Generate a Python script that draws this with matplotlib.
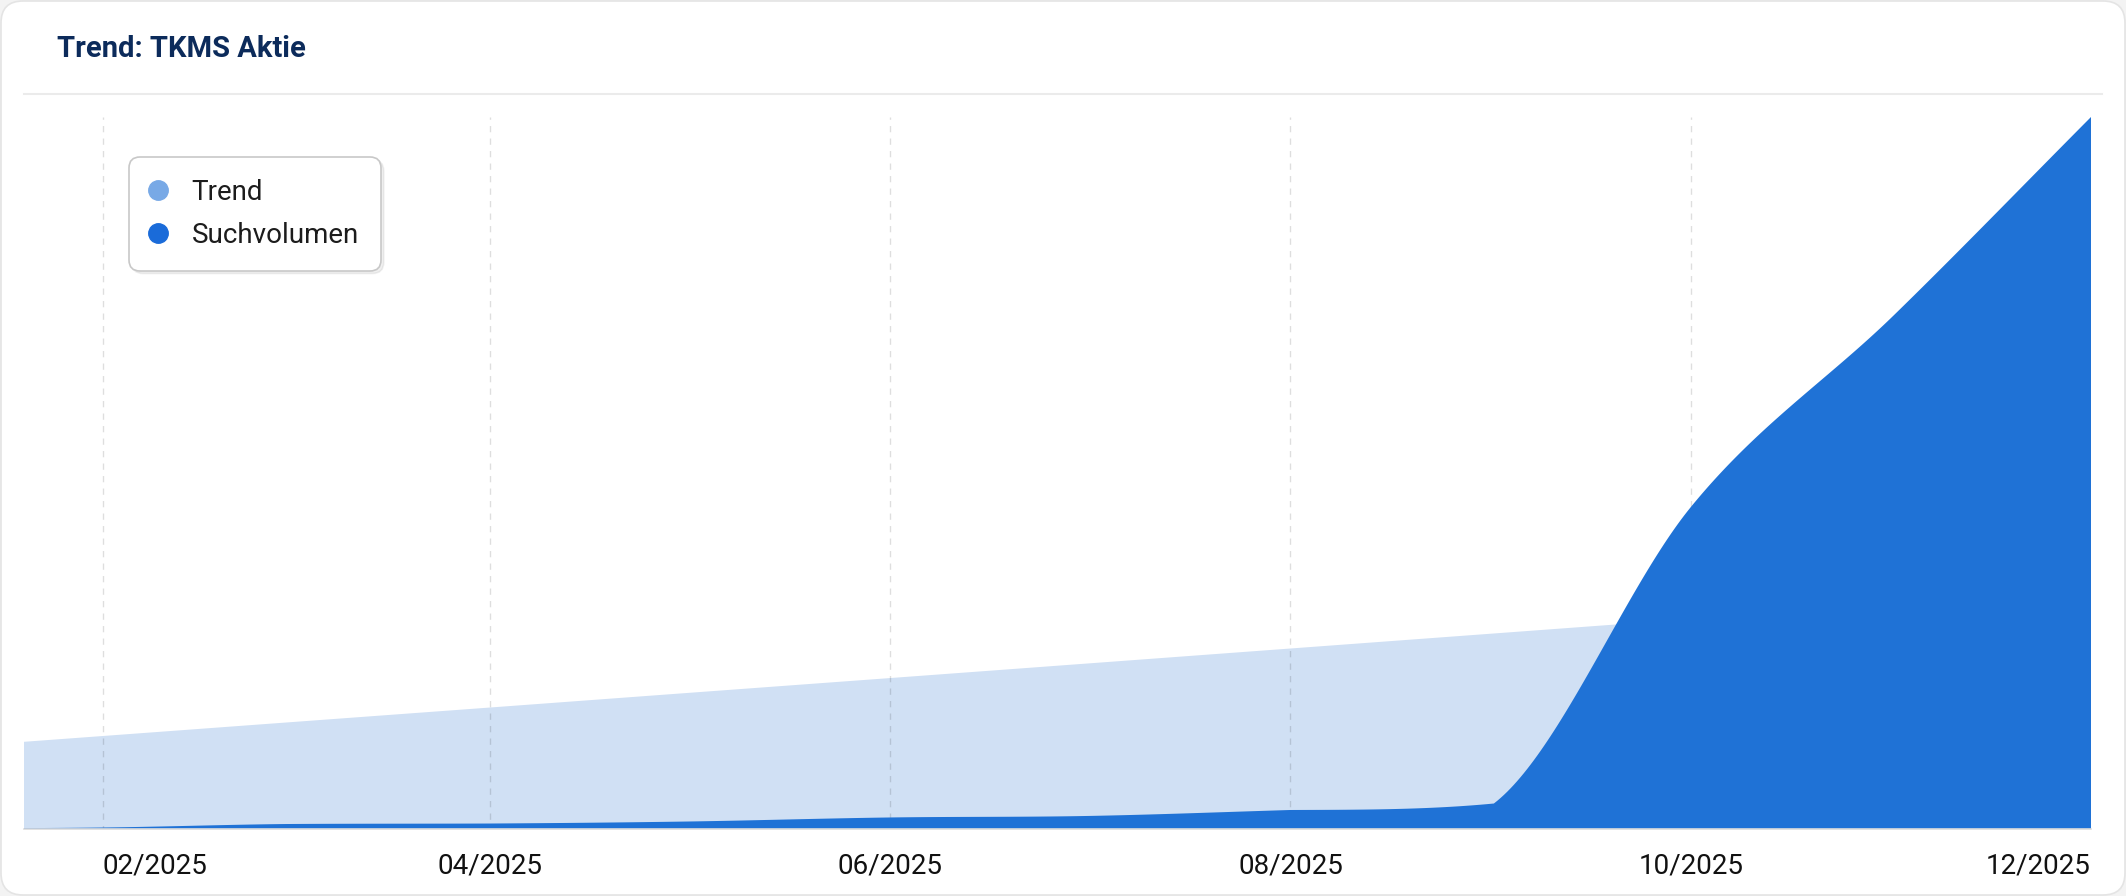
import numpy as np
import pandas as pd
import matplotlib
matplotlib.use('Agg')
import matplotlib.pyplot as plt
import matplotlib.dates as mdates
from matplotlib.lines import Line2D
from matplotlib.patches import FancyBboxPatch
from matplotlib.transforms import IdentityTransform

plt.rcParams['font.family'] = ['Roboto', 'DejaVu Sans']

# monthly data points (relative index, 100 = max)
months = ['2025-01-01', '2025-02-01', '2025-03-01', '2025-04-01', '2025-05-01', '2025-06-01',
          '2025-07-01', '2025-08-01', '2025-09-01', '2025-10-01', '2025-11-01', '2025-12-01']
trend = [10.96, 13.06, 14.96, 17.06, 19.1, 21.2, 23.24, 25.35, 27.46, 29.5, 31.6, 33.64]
suchvolumen = [0.07, 0.21, 0.7, 0.77, 1.05, 1.62, 1.83, 2.67, 3.58, 45.2, 72.2, 100.0]

tick_dates = ['2025-02-01', '2025-04-01', '2025-06-01', '2025-08-01', '2025-10-01', '2025-12-01']
tick_labels = ['02/2025', '04/2025', '06/2025', '08/2025', '10/2025', '12/2025']
x_start = '2025-01-20'

W, H = 2126, 896


def smooth_curve(x, y, n=60):
    # monotone-ish bezier, tangents clamped per segment (so corners can stay)
    x = np.asarray(x, float)
    y = np.asarray(y, float)
    k = len(x)
    delta = np.diff(y) / np.diff(x)
    m = np.zeros(k)
    m[0] = delta[0]
    m[-1] = delta[-1]
    for i in range(1, k - 1):
        if np.sign(delta[i - 1]) != np.sign(delta[i]):
            m[i] = 0
        else:
            m[i] = (delta[i - 1] + delta[i]) / 2
    xs, ys = [], []
    t = np.linspace(0, 1, n)
    for i in range(k - 1):
        m0, m1 = m[i], m[i + 1]
        if abs(delta[i]) < 1e-12:
            m0 = m1 = 0
        else:
            a = m0 / delta[i]
            b = m1 / delta[i]
            s = a * a + b * b
            if s > 9:
                tau = 3 / np.sqrt(s)
                m0 = a * tau * delta[i]
                m1 = b * tau * delta[i]
        d = (x[i + 1] - x[i]) / 3
        px = [x[i], x[i] + d, x[i + 1] - d, x[i + 1]]
        py = [y[i], y[i] + d * m0, y[i + 1] - d * m1, y[i + 1]]
        bx = (1 - t) ** 3 * px[0] + 3 * (1 - t) ** 2 * t * px[1] + 3 * (1 - t) * t ** 2 * px[2] + t ** 3 * px[3]
        by = (1 - t) ** 3 * py[0] + 3 * (1 - t) ** 2 * t * py[1] + 3 * (1 - t) * t ** 2 * py[2] + t ** 3 * py[3]
        xs.extend(bx)
        ys.extend(by)
    return np.array(xs), np.array(ys)


x = mdates.date2num(pd.to_datetime(months))

fig = plt.figure(figsize=(W / 100, H / 100), dpi=100)
fig.patch.set_facecolor('#f3f3f3')
card = FancyBboxPatch((1, 1), W - 2, H - 2, boxstyle='round,pad=0,rounding_size=22',
                      transform=IdentityTransform(), fc='white', ec='#e4e4e4', lw=1.2, zorder=-10)
fig.add_artist(card)

ax = fig.add_axes([24 / W, 1 - 829 / H, (2091 - 24) / W, (829 - 117) / H])
ax.set_facecolor('none')

tx, ty = smooth_curve(x, trend)
sx, sy = smooth_curve(x, suchvolumen)
ax.fill_between(tx, 0, ty, color='#d0e0f4', lw=0, zorder=1)
ax.fill_between(sx, 0, sy, color='#1f72d6', lw=0, zorder=3)

ax.set_xlim(mdates.date2num(pd.Timestamp(x_start)), x[-1])
ax.set_ylim(0, 100)

ax.set_xticks(mdates.date2num(pd.to_datetime(tick_dates)))
ax.set_xticklabels(tick_labels, fontsize=20, color='#111111')
labels = ax.get_xticklabels()
labels[0].set_ha('left')
labels[-1].set_ha('right')
ax.tick_params(axis='x', length=0, pad=17)
ax.set_yticks([])
ax.grid(axis='x', color='black', alpha=0.13, lw=1.0, linestyle=(2, (4.5, 4.5)), zorder=2)
ax.set_axisbelow(False)
for gl in ax.get_xgridlines():
    gl.set_zorder(2)
for side in ['top', 'left', 'right']:
    ax.spines[side].set_visible(False)
ax.spines['bottom'].set_color('#dcdcdc')
ax.spines['bottom'].set_linewidth(1.2)
ax.spines['bottom'].set_zorder(4)

fig.text(57 / W, 1 - 49 / H, 'Trend: TKMS Aktie', fontsize=21, fontweight='bold',
         color='#0c2b5b', ha='left', va='center')
fig.add_artist(Line2D([24 / W, 2102 / W], [1 - 94 / H, 1 - 94 / H], color='#ebebeb', lw=1.5))

handles = [Line2D([], [], marker='o', ls='none', markersize=14, color='#78a9e6'),
           Line2D([], [], marker='o', ls='none', markersize=14, color='#1a6bd9')]
leg = ax.legend(handles, ['Trend', 'Suchvolumen'], loc='upper left',
                bbox_to_anchor=(129 / W, 1 - 157 / H), bbox_transform=fig.transFigure,
                borderaxespad=0, fontsize=20, frameon=True, fancybox=True,
                borderpad=0.8, labelspacing=0.55, handlelength=0.5, handletextpad=0.95,
                edgecolor='#c8c8c8', facecolor='white', framealpha=1,
                shadow={'color': 'black', 'alpha': 0.06})
leg.get_frame().set_linewidth(1.2)
leg.get_frame().set_boxstyle('round', pad=0, rounding_size=0.4)
leg.set_zorder(10)
for t in leg.get_texts():
    t.set_color('#1c1c1c')

fig.savefig('out.png', dpi=100, facecolor=fig.get_facecolor())
